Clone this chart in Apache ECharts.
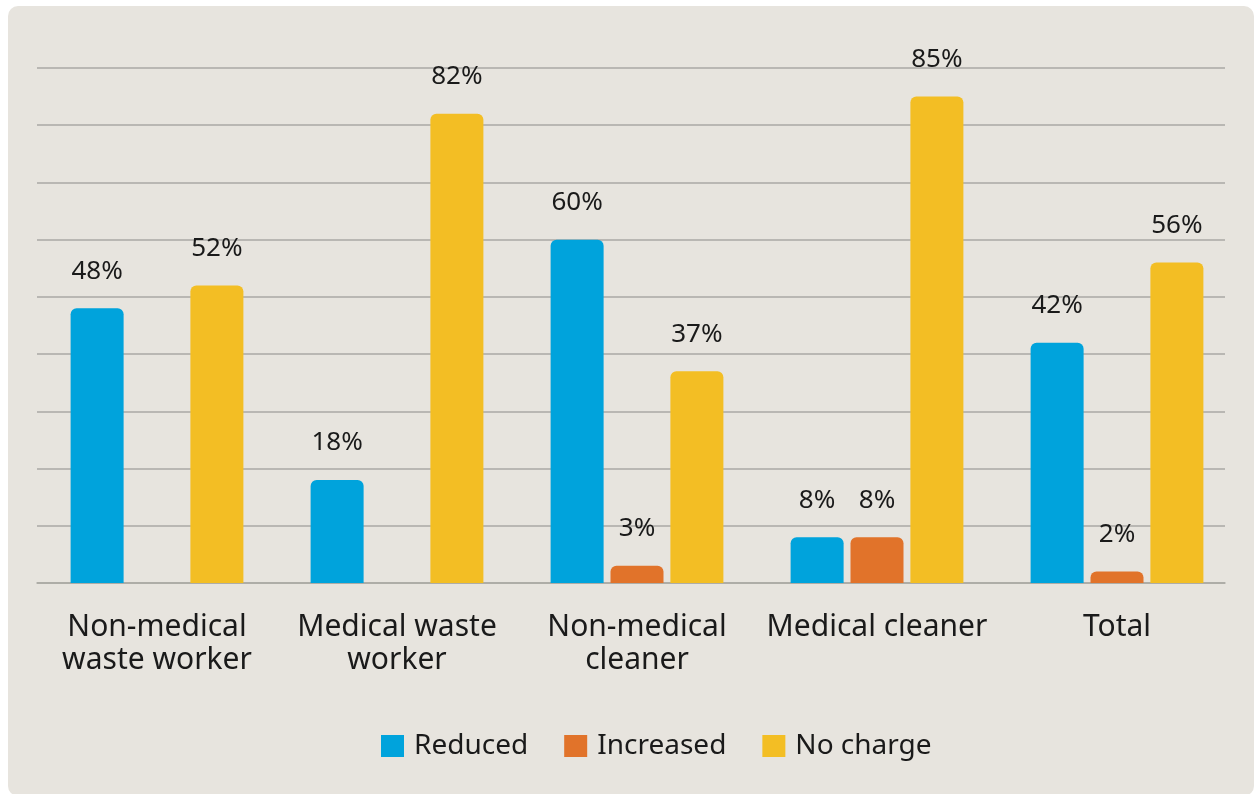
<!DOCTYPE html>
<html>
<head>
<meta charset="utf-8">
<script src="https://cdn.jsdelivr.net/npm/echarts@6/dist/echarts.min.js"></script>
<style>
  html, body { margin: 0; padding: 0; background: #ffffff; }
  #panel { position: absolute; left: 8px; top: 6px; width: 1246px; height: 790px; background: #e7e4de; border-radius: 10px; }
  #chart { position: absolute; left: 0; top: 0; width: 1254px; height: 794px; }
</style>
</head>
<body>
<div id="panel"></div>
<div id="chart"></div>
<script>
var categories = ['Non-medical\nwaste worker', 'Medical waste\nworker', 'Non-medical\ncleaner', 'Medical cleaner', 'Total'];
var reduced = [48, 18, 60, 8, 42];
var increased = [null, null, 3, 8, 2];
var noCharge = [52, 82, 37, 85, 56];

var myChart = echarts.init(document.getElementById('chart'));

function barSeries(name, data, color) {
    return {
        name: name,
        type: 'bar',
        xAxisIndex: 0,
        yAxisIndex: 0,
        data: data,
        barWidth: 53,
        barGap: '13%',
        itemStyle: { color: color, borderRadius: [6, 6, 0, 0] },
        label: {
            show: true,
            position: 'top',
            distance: 24,
            formatter: '{c}%',
            fontSize: 26,
            color: '#1a1a1a',
            fontFamily: 'Noto Sans'
        }
    };
}

var option = {
    textStyle: { fontFamily: 'Noto Sans' },
    // grid 0 holds the bars, grid 1 only draws the gridlines (slightly shorter)
    grid: [
        { left: 37, right: 17, top: 68, bottom: 211 },
        { left: 37, right: 29, top: 68, bottom: 211 }
    ],
    legend: {
        bottom: 29,
        left: 376,
        itemWidth: 23,
        itemHeight: 22,
        itemGap: 36,
        icon: 'rect',
        textStyle: { fontSize: 28, color: '#1a1a1a', fontFamily: 'Noto Sans', padding: [0, 0, 0, 5] },
        data: ['Reduced', 'Increased', 'No charge']
    },
    xAxis: [
        {
            type: 'category',
            gridIndex: 0,
            data: categories,
            axisTick: { show: false },
            axisLine: { show: false },
            axisLabel: {
                interval: 0,
                fontSize: 30,
                lineHeight: 33,
                color: '#1a1a1a',
                margin: 28,
                fontFamily: 'Noto Sans'
            }
        },
        {
            type: 'category',
            gridIndex: 1,
            data: categories,
            axisTick: { show: false },
            axisLabel: { show: false },
            axisLine: { lineStyle: { color: '#aaa9a4', width: 1.5 } }
        }
    ],
    yAxis: [
        {
            type: 'value',
            gridIndex: 0,
            min: 0,
            max: 90,
            interval: 10,
            axisLabel: { show: false },
            axisLine: { show: false },
            axisTick: { show: false },
            splitLine: { show: false }
        },
        {
            type: 'value',
            gridIndex: 1,
            min: 0,
            max: 90,
            interval: 10,
            axisLabel: { show: false },
            axisLine: { show: false },
            axisTick: { show: false },
            splitLine: { lineStyle: { color: '#aaa9a4', width: 1.5 } }
        }
    ],
    series: [
        barSeries('Reduced', reduced, '#00a3dc'),
        barSeries('Increased', increased, '#e1732a'),
        barSeries('No charge', noCharge, '#f3be24')
    ]
};

myChart.setOption(option);
window.addEventListener("resize", function () { myChart.resize(); });
</script>
</body>
</html>
